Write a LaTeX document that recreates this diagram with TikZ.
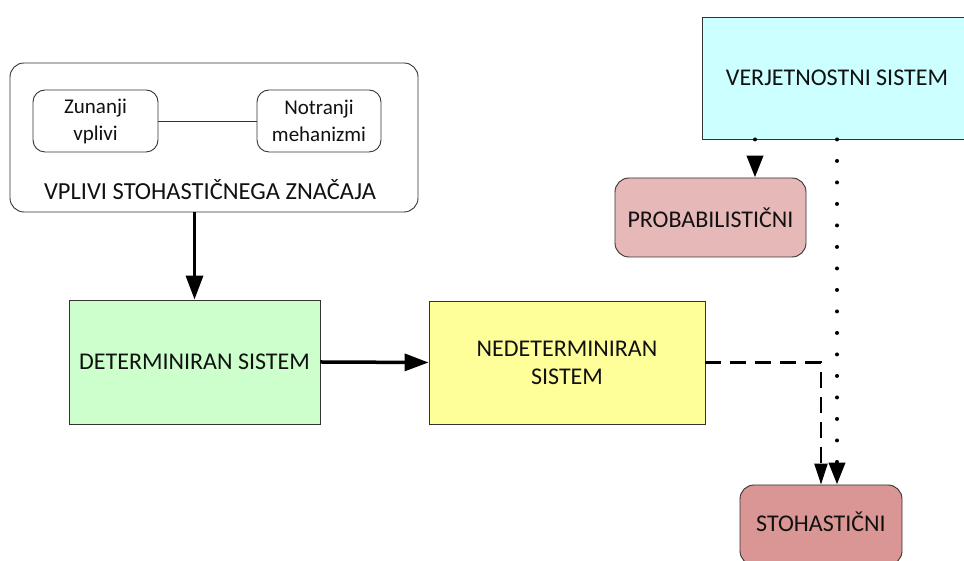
\documentclass[tikz,border=0pt]{standalone}
\usepackage{fontspec}
\setmainfont{Carlito}
\usetikzlibrary{arrows.meta}

\definecolor{detgreen}{HTML}{CCFFCC}
\definecolor{nedyellow}{HTML}{FFFF99}
\definecolor{vercyan}{HTML}{CCFFFF}
\definecolor{probpink}{HTML}{E6B9B8}
\definecolor{stored}{HTML}{D99694}
\definecolor{edge}{HTML}{333333}
\definecolor{ink}{HTML}{111111}

\tikzset{
  sysbox/.style={draw=edge, line width=0.9pt, text=ink, align=center,
    font=\fontsize{24}{28}\selectfont, inner sep=0pt},
  roundbox/.style={sysbox, rounded corners=14pt},
  smallbox/.style={draw=edge, line width=0.9pt, rounded corners=12pt, text=ink,
    align=center, font=\fontsize{21}{27}\selectfont, inner sep=0pt,
    minimum width=125pt, minimum height=62pt},
  heavyarrow/.style={line width=3.5pt, -{Triangle[length=24pt,width=17pt]}},
  dottedarrow/.style={line width=4pt, line cap=round, dash pattern=on 0pt off 21.5pt,
    -{Triangle[length=22pt,width=16pt]}},
  dashedarrow/.style={line width=2.5pt, dash pattern=on 16pt off 9pt,
    -{Triangle[length=21pt,width=13pt]}},
}

\begin{document}
\begin{tikzpicture}[x=1pt,y=1pt]
  \clip (0,0) rectangle (964,561);
  \fill[white] (0,0) rectangle (964,561);

  % group of stochastic influences
  \node[draw=edge, line width=0.9pt, rounded corners=14pt, minimum width=408pt,
        minimum height=149pt, inner sep=0pt] (grp) at (214,423.5) {};
  \node[smallbox] (zun) at (95.5,440) {Zunanji\\vplivi};
  \node[smallbox, minimum width=124pt] (notr) at (319,440) {Notranji\\mehanizmi};
  \node[text=ink, font=\fontsize{24.5}{28}\selectfont, inner sep=0pt] (grplbl)
        at (210,371) {VPLIVI STOHASTIČNEGA ZNAČAJA};
  \draw[edge, line width=0.9pt] (zun.east) -- (notr.west);

  % systems
  \node[sysbox, fill=detgreen, minimum width=251pt, minimum height=124pt] (det)
        at (194.5,199) {DETERMINIRAN SISTEM};
  \node[sysbox, fill=nedyellow, minimum width=276pt, minimum height=123pt] (ned)
        at (567,198.5) {NEDETERMINIRAN\\SISTEM};
  \node[sysbox, fill=vercyan, minimum width=270pt, minimum height=122pt] (ver)
        at (837,483) {VERJETNOSTNI SISTEM};

  % outcomes
  \node[roundbox, fill=probpink, minimum width=191pt, minimum height=79pt] (prob)
        at (710.5,343.5) {PROBABILISTIČNI};
  \node[roundbox, fill=stored, minimum width=162pt, minimum height=80pt] (sto)
        at (821,36) {};
  \node[text=ink, font=\fontsize{24}{28}\selectfont, inner sep=0pt] (stolbl)
        at (821,39) {STOHASTIČNI};

  % connectors
  \coordinate (pa) at (755,0);
  \draw[heavyarrow] (grp.south -| det.north) -- (det.north);
  \draw[heavyarrow] (det.east) -- (ned.west);
  \draw[dottedarrow] (ver.south -| pa) -- (prob.north -| pa);
  \draw[dottedarrow] (ver.south) -- (ver.south |- sto.north);
  \draw[dashedarrow] (ned.east) -| (sto.north);
\end{tikzpicture}
\end{document}
